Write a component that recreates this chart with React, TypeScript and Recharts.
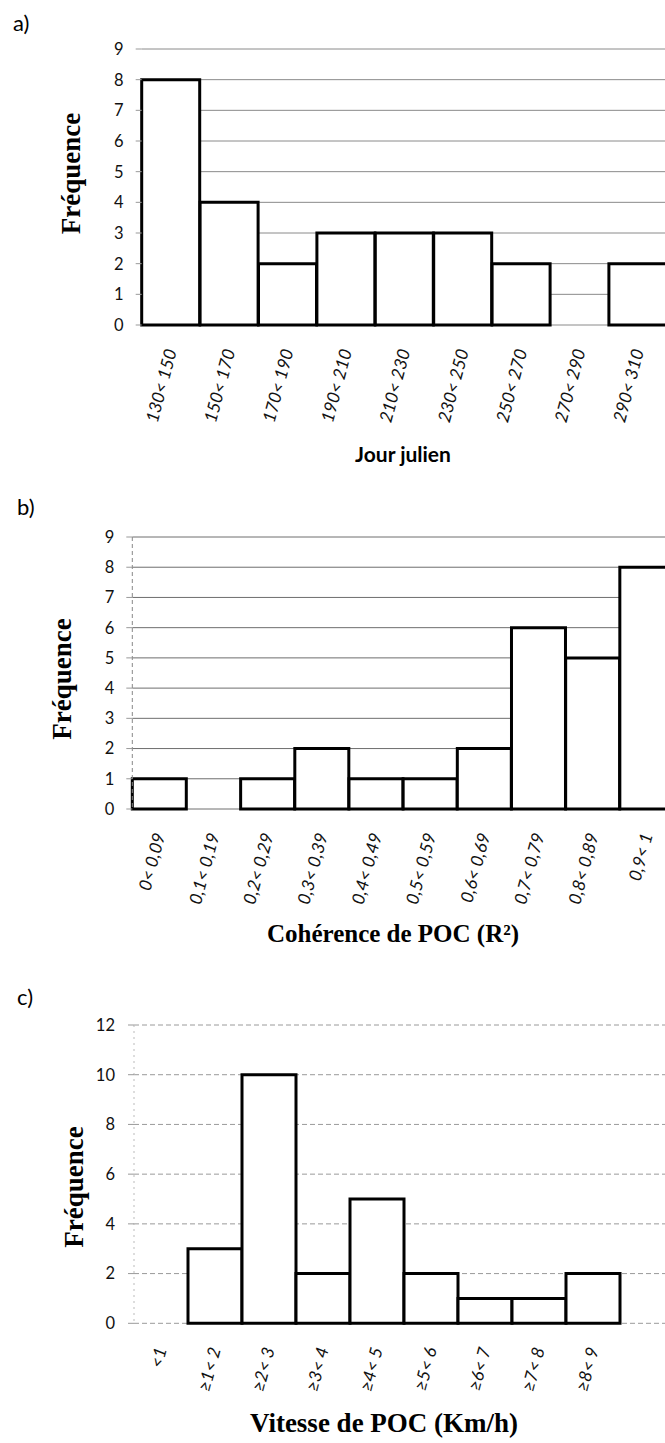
import React from 'react';
import { BarChart, Bar, XAxis, YAxis, CartesianGrid, Label } from 'recharts';

// ---- Data ----
const jourCategories = ['130< 150', '150< 170', '170< 190', '190< 210', '210< 230', '230< 250', '250< 270', '270< 290', '290< 310'];
const jourCounts = [8, 4, 2, 3, 3, 3, 2, 0, 2];
const jourTicks = [0, 1, 2, 3, 4, 5, 6, 7, 8, 9];

const cohCategories = ['0< 0,09', '0,1< 0,19', '0,2< 0,29', '0,3< 0,39', '0,4< 0,49', '0,5< 0,59', '0,6< 0,69', '0,7< 0,79', '0,8< 0,89', '0,9< 1'];
const cohCounts = [1, 0, 1, 2, 1, 1, 2, 6, 5, 8];
const cohTicks = [0, 1, 2, 3, 4, 5, 6, 7, 8, 9];

const vitCategories = ['<1', '≥1< 2', '≥2< 3', '≥3< 4', '≥4< 5', '≥5< 6', '≥6< 7', '≥7< 8', '≥8< 9', ''];
const vitCounts = [0, 3, 10, 2, 5, 2, 1, 1, 2, 0];
const vitTicks = [0, 2, 4, 6, 8, 10, 12];

const SANS = 'Lato, "Open Sans", sans-serif';
const SERIF = '"Liberation Serif", "Times New Roman", serif';

const build = (cats: string[], vals: number[]) => cats.map((c, i) => ({ cat: c, count: vals[i] }));

const RotTick = (props: any) => {
  const { x, y, payload } = props;
  return (
    <text
      transform={`translate(${x + 6},${y + 26}) rotate(-75)`}
      textAnchor="end"
      fontFamily={SANS}
      fontStyle="italic"
      fontSize={17.5}
      fill="#111"
    >
      {payload.value}
    </text>
  );
};

type PanelProps = {
  top: number;
  data: { cat: string; count: number }[];
  ticks: number[];
  yMax: number;
  plotTop: number;
  plotBottom: number;
  plotLeft: number;
  plotRight: number;
  height: number;
  gridStroke: string;
  gridDash?: string;
  axisLine: any;
  tickGap: number;
  xTitle: string;
  xTitleX: number;
  xTitleY: number;
  xTitleFont: string;
  xTitleSize: number;
  xTitleWeight: string | number;
  yTitleX: number;
  yTitleY: number;
};

const W = 690;
const YW = 60;

function Panel(p: PanelProps) {
  const margin = {
    top: p.plotTop - p.top,
    left: p.plotLeft - YW,
    right: W - p.plotRight,
    bottom: 0,
  };
  const xAxisH = p.height - (p.plotBottom - p.top);
  return (
    <div style={{ position: 'absolute', left: 0, top: p.top }}>
      <BarChart width={W} height={p.height} data={p.data} margin={margin} barCategoryGap={0} barGap={0}>
        <CartesianGrid vertical={false} stroke={p.gridStroke} strokeDasharray={p.gridDash} />
        <XAxis
          dataKey="cat"
          interval={0}
          height={xAxisH}
          tickSize={0}
          tickMargin={0}
          axisLine={false}
          tickLine={false}
          tick={<RotTick />}
        >
          <Label
            content={() => (
              <text
                x={p.xTitleX}
                y={p.xTitleY}
                textAnchor="middle"
                fontFamily={p.xTitleFont}
                fontSize={p.xTitleSize}
                fontWeight={p.xTitleWeight}
                fill="#000"
              >
                {p.xTitle}
              </text>
            )}
          />
        </XAxis>
        <YAxis
          domain={[0, p.yMax]}
          ticks={p.ticks}
          interval={0}
          width={YW}
          tickSize={6}
          tickMargin={p.tickGap}
          axisLine={p.axisLine}
          tickLine={{ stroke: '#999' }}
          tick={{ fontFamily: SANS, fontSize: 16.5, fill: '#111' }}
        >
          <Label
            content={() => (
              <text
                transform={`translate(${p.yTitleX},${p.yTitleY}) rotate(-90)`}
                textAnchor="middle"
                fontFamily={SERIF}
                fontSize={27}
                fontWeight="bold"
                fill="#000"
              >
                Fréquence
              </text>
            )}
          />
        </YAxis>
        <Bar dataKey="count" fill="#fff" stroke="#000" strokeWidth={3} isAnimationActive={false} />
      </BarChart>
    </div>
  );
}

export default function App() {
  return (
    <div style={{ position: 'absolute', left: 0, top: 0, width: 665, height: 1443, overflow: 'hidden', background: '#fff' }}>
      <Panel
        top={0}
        data={build(jourCategories, jourCounts)}
        ticks={jourTicks}
        yMax={9}
        plotTop={49}
        plotBottom={325}
        plotLeft={141.7}
        plotRight={667.3}
        height={475}
        gridStroke="#8a8a8a"
        axisLine={false}
        tickGap={12}
        xTitle="Jour julien"
        xTitleX={403}
        xTitleY={462}
        xTitleFont={SANS}
        xTitleSize={21}
        xTitleWeight="bold"
        yTitleX={80}
        yTitleY={173.5}
      />
      <Panel
        top={480}
        data={build(cohCategories, cohCounts)}
        ticks={cohTicks}
        yMax={9}
        plotTop={537}
        plotBottom={809}
        plotLeft={132.3}
        plotRight={674}
        height={479}
        gridStroke="#6e6e6e"
        axisLine={{ stroke: '#888', strokeDasharray: '4 3' }}
        tickGap={12}
        xTitle="Cohérence de POC (R²)"
        xTitleX={393}
        xTitleY={462}
        xTitleFont={SERIF}
        xTitleSize={25}
        xTitleWeight="bold"
        yTitleX={71}
        yTitleY={199}
      />
      <Panel
        top={990}
        data={build(vitCategories, vitCounts)}
        ticks={vitTicks}
        yMax={12}
        plotTop={1025}
        plotBottom={1323.3}
        plotLeft={134}
        plotRight={674}
        height={453}
        gridStroke="#9a9a9a"
        gridDash="5 3"
        axisLine={{ stroke: '#bbb', strokeDasharray: '2 4' }}
        tickGap={13}
        xTitle="Vitesse de POC (Km/h)"
        xTitleX={384}
        xTitleY={442}
        xTitleFont={SERIF}
        xTitleSize={27}
        xTitleWeight="bold"
        yTitleX={83}
        yTitleY={197}
      />
      <svg width={665} height={1443} style={{ position: 'absolute', left: 0, top: 0, pointerEvents: 'none' }}>
        <text x={13} y={31} fontFamily={SANS} fontSize={22} fill="#000">a)</text>
        <text x={17} y={515} fontFamily={SANS} fontSize={22} fill="#000">b)</text>
        <text x={17} y={1005} fontFamily={SANS} fontSize={22} fill="#000">c)</text>
      </svg>
    </div>
  );
}
